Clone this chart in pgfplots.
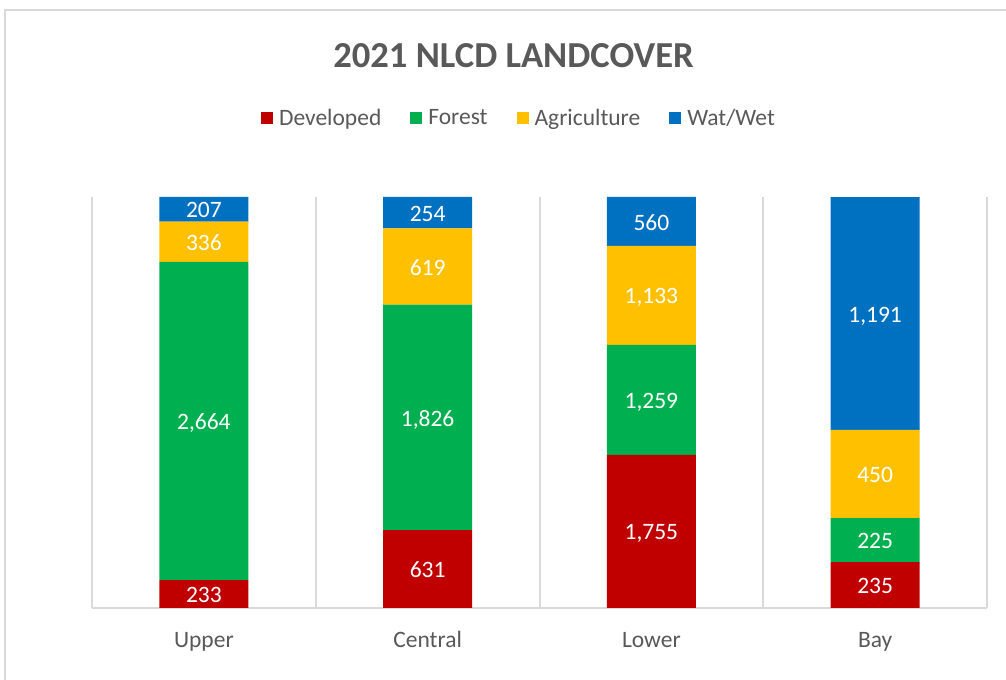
\documentclass[border=0pt]{standalone}
\usepackage{pgfplots}
\pgfplotsset{compat=1.18}
\usepackage{pgfplotstable}
\usepackage{fontspec}
\setmainfont{Carlito}

\definecolor{cdev}{HTML}{C00000}
\definecolor{cfor}{HTML}{00B050}
\definecolor{cagr}{HTML}{FFC000}
\definecolor{cwat}{HTML}{0070C0}
\definecolor{txt}{HTML}{595959}
\definecolor{grd}{HTML}{D9D9D9}

% acres (thousands) per region
\pgfplotstableread{
x dev for agr wat
0 233 2664 336 207
1 631 1826 619 254
2 1755 1259 1133 560
3 235 225 450 1191
}\landcover

\newcommand\tot{(\thisrow{dev}+\thisrow{for}+\thisrow{agr}+\thisrow{wat})}
\newcommand\bodyfont{\fontsize{23.5bp}{28bp}\selectfont}

\pgfplotsset{
  frame/.style={
    width=895bp, height=411bp, scale only axis,
    at={(92bp,72bp)}, anchor=south west,
    xmin=-0.5, xmax=3.5, ymin=0, ymax=100,
  },
}

\begin{document}
\begin{tikzpicture}
\useasboundingbox (0,0) rectangle (1006bp,680bp);
\fill[white] (0,0) rectangle (1006bp,680bp);
\draw[grd, line width=1.5bp] (5bp,-10bp) rectangle (1020bp,670bp);

\node[anchor=base, font=\fontsize{36.6bp}{40bp}\selectfont\bfseries, text=txt]
  at (513.5bp,612bp) {2021 NLCD LANDCOVER};

\begin{axis}[
  frame,
  ybar stacked, bar width=89bp,
  axis x line=bottom, axis y line=box,
  x axis line style={-, draw=grd, line width=2bp},
  y axis line style={-, draw=grd, line width=2bp},
  xtick={0,1,2,3}, xticklabels={Upper,Central,Lower,Bay},
  major tick length=0pt,
  xticklabel style={anchor=base, yshift=-39bp, text=txt, font=\bodyfont},
  minor xtick={0.5,1.5,2.5},
  xminorgrids, minor grid style={draw=grd, line width=2bp},
  ytick=\empty,
  legend columns=4,
  legend style={draw=none, fill=none, font=\bodyfont, text=txt,
    at={(0.4765,1.192)}, anchor=center,
    nodes={inner sep=1bp},
    /tikz/every odd column/.append style={column sep=5bp},
    /tikz/every even column/.append style={column sep=28bp}},
  legend image code/.code={\fill[#1] (0bp,-6bp) rectangle (12bp,6bp);},
]
\addplot[fill=cdev, draw=none] table[x=x, y expr=\thisrow{dev}/\tot*100] {\landcover};
\addplot[fill=cfor, draw=none] table[x=x, y expr=\thisrow{for}/\tot*100] {\landcover};
\addplot[fill=cagr, draw=none] table[x=x, y expr=\thisrow{agr}/\tot*100] {\landcover};
\addplot[fill=cwat, draw=none] table[x=x, y expr=\thisrow{wat}/\tot*100] {\landcover};
\legend{Developed,Forest,Agriculture,Wat/Wet}
\end{axis}

\begin{axis}[
  frame, hide axis, clip=false,
  /pgf/number format/.cd, 1000 sep={,}, assume math mode=true, /pgfplots/.cd,
  nodes near coords,
  every node near coord/.style={anchor=center, text=white, font=\bodyfont,
    text depth=0pt, inner sep=0pt, yshift=-1bp},
]
\addplot[draw=none, mark=none, point meta=\thisrow{dev}]
  table[x=x, y expr=\thisrow{dev}/2/\tot*100] {\landcover};
\addplot[draw=none, mark=none, point meta=\thisrow{for}]
  table[x=x, y expr=(\thisrow{dev}+\thisrow{for}/2)/\tot*100] {\landcover};
\addplot[draw=none, mark=none, point meta=\thisrow{agr}]
  table[x=x, y expr=(\thisrow{dev}+\thisrow{for}+\thisrow{agr}/2)/\tot*100] {\landcover};
\addplot[draw=none, mark=none, point meta=\thisrow{wat}]
  table[x=x, y expr=(\tot-\thisrow{wat}/2)/\tot*100] {\landcover};
\end{axis}
\end{tikzpicture}
\end{document}
